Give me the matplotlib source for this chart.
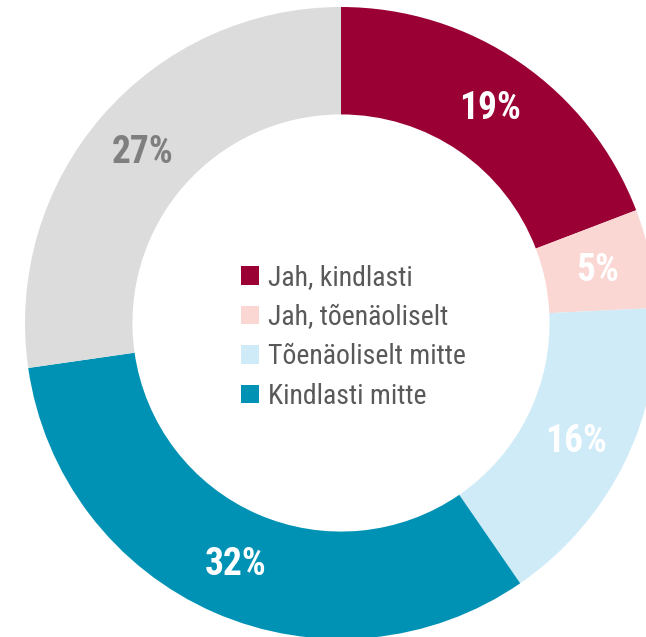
import matplotlib
matplotlib.use("Agg")
import matplotlib.pyplot as plt
import numpy as np

# 数据
labels = ["Jah, kindlasti", "Jah, tõenäoliselt", "Tõenäoliselt mitte", "Kindlasti mitte", "Ei oska öelda"]
values = [19, 5, 16, 32, 27]
colors = ["#9B0034", "#FAD7D3", "#CFEBF8", "#0092B4", "#DCDCDC"]
label_colors = ["white", "white", "white", "white", "#7F7F7F"]

plt.rcParams["font.family"] = ["Roboto Condensed", "Liberation Sans Narrow", "Roboto", "DejaVu Sans"]

fig = plt.figure(figsize=(6.46, 6.37), dpi=100)
# 圆环中心约在 (341, 323)，外半径约 316 像素，右侧和底部被裁掉
ax = fig.add_axes([25 / 646, -2 / 637, 632 / 646, 632 / 637])

wedges, texts = ax.pie(values, colors=colors, startangle=90, counterclock=False,
                       radius=1.0, wedgeprops=dict(width=0.34, edgecolor="none"))

for w, v, c in zip(wedges, values, label_colors):
    mid = np.deg2rad((w.theta1 + w.theta2) / 2)
    r = 0.83
    ax.text(r * np.cos(mid), r * np.sin(mid) - 0.005, f"{v}%", ha="center", va="center",
            fontsize=27, fontweight="bold", color=c)

leg = ax.legend(wedges[:4], labels[:4], loc="upper left", bbox_to_anchor=(0.342, 0.593),
                frameon=False, fontsize=20, handlelength=0.65, handleheight=0.65,
                handletextpad=0.3, labelspacing=0.45, borderaxespad=0, borderpad=0)
for t in leg.get_texts():
    t.set_color("#595959")

ax.set_xlim(-1, 1)
ax.set_ylim(-1, 1)
ax.set_aspect("equal")
ax.axis("off")

fig.savefig("out.png", dpi=100)
